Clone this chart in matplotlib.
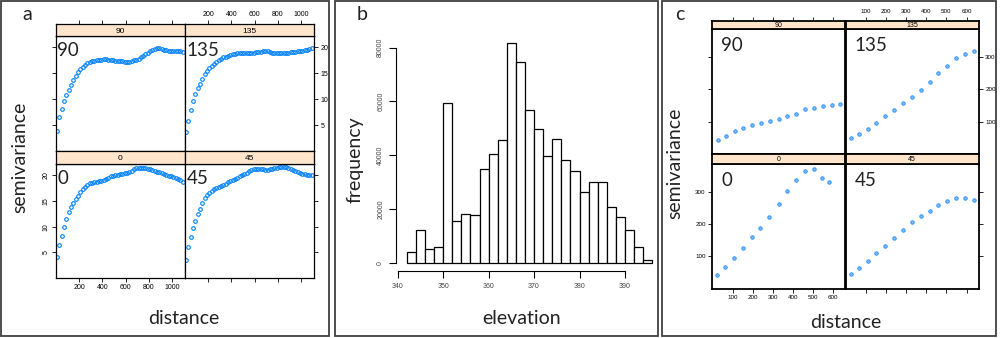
import matplotlib
matplotlib.use('Agg')
import matplotlib.pyplot as plt
from matplotlib.patches import Rectangle

# ---- panel a : directional semivariograms (dense lags) ----
dist_a = [10, 30, 50, 70, 90, 110, 130, 150, 170, 190, 210, 230, 250, 270, 290,
          310, 330, 350, 370, 390, 410, 430, 450, 470, 490, 510, 530, 550, 570, 590,
          610, 630, 650, 670, 690, 710, 730, 750, 770, 790, 810, 830, 850, 870, 890,
          910, 930, 950, 970, 990, 1010, 1030, 1050, 1070, 1090]
gamma_a_90 = [3.9, 6.5, 8.1, 9.6, 10.8, 11.8, 12.8, 13.7, 14.5, 15.2, 15.8, 16.2, 16.6, 16.95, 17.15,
              17.3, 17.45, 17.55, 17.6, 17.65, 17.7, 17.7, 17.65, 17.6, 17.55, 17.45, 17.4, 17.35, 17.3, 17.25,
              17.2, 17.25, 17.35, 17.5, 17.6, 17.8, 18.1, 18.4, 18.7, 19.0, 19.3, 19.5, 19.7, 19.85, 19.8,
              19.65, 19.5, 19.45, 19.4, 19.4, 19.35, 19.3, 19.3, 19.25, 19.2]
gamma_a_135 = [3.6, 5.8, 8.0, 9.7, 11.0, 12.1, 13.0, 13.9, 14.8, 15.4, 15.95, 16.45, 16.85, 17.2, 17.5,
               17.8, 18.05, 18.2, 18.35, 18.5, 18.65, 18.75, 18.85, 18.9, 18.9, 18.85, 18.9, 18.95, 19.0, 19.0,
               19.05, 19.15, 19.2, 19.3, 19.35, 19.25, 19.1, 19.0, 18.95, 18.9, 18.9, 18.95, 18.95, 19.0, 19.0,
               19.05, 19.1, 19.15, 19.25, 19.3, 19.35, 19.45, 19.55, 19.65, 19.8]
gamma_a_0 = [4.0, 6.5, 8.2, 10.0, 11.5, 12.9, 13.8, 14.6, 15.4, 16.0, 16.7, 17.3, 17.8, 18.2, 18.45,
             18.55, 18.65, 18.75, 18.8, 18.9, 19.0, 19.2, 19.5, 19.8, 19.9, 20.0, 20.1, 20.2, 20.25, 20.35,
             20.45, 20.6, 20.9, 21.2, 21.45, 21.5, 21.45, 21.4, 21.35, 21.3, 21.2, 21.0, 20.85, 20.7, 20.55,
             20.4, 20.25, 20.1, 19.95, 19.8, 19.65, 19.5, 19.35, 19.1, 18.6]
gamma_a_45 = [3.5, 6.1, 8.0, 9.7, 11.1, 12.4, 13.5, 14.6, 15.5, 16.2, 16.6, 17.0, 17.3, 17.55, 17.75,
              17.95, 18.15, 18.4, 18.65, 18.85, 19.05, 19.3, 19.55, 19.8, 20.0, 20.25, 20.5, 20.75, 21.0, 21.2,
              21.3, 21.25, 21.2, 21.15, 21.1, 21.1, 21.15, 21.25, 21.4, 21.5, 21.55, 21.6, 21.6, 21.55, 21.5,
              21.3, 21.0, 20.75, 20.55, 20.4, 20.3, 20.2, 20.1, 20.05, 20.0]

# ---- panel b : elevation histogram ----
bin_left = [342, 344, 346, 348, 350, 352, 354, 356, 358, 360, 362, 364, 366, 368,
            370, 372, 374, 376, 378, 380, 382, 384, 386, 388, 390, 392, 394]
counts = [4100, 12100, 5000, 5700, 59500, 15600, 18000, 17600, 35000, 40500, 45600, 81700, 74700, 56700,
          49600, 39700, 46100, 38400, 34100, 26200, 30100, 30100, 20700, 17100, 12000, 5700, 900]

# ---- panel c : directional semivariograms (coarse lags) ----
dist_c = [27, 66, 110, 152, 196, 240, 284, 329, 373, 417, 460, 505, 549, 593, 637]
dist_c0 = [25, 65, 105, 150, 195, 239, 282, 329, 373, 416, 459, 506, 545, 580]
gamma_c_90 = [43, 57, 70, 80, 89, 95, 103, 109, 118, 125, 138, 141, 147, 150, 155]
gamma_c_135 = [48, 62, 78, 96, 116, 137, 156, 176, 198, 223, 250, 272, 295, 308, 319]
gamma_c_0 = [43, 67, 95, 126, 159, 189, 222, 262, 301, 337, 363, 371, 343, 329]
gamma_c_45 = [46, 64, 86, 109, 132, 156, 181, 205, 225, 242, 260, 271, 280, 280, 275]

W, H = 1000, 338
fig = plt.figure(figsize=(W / 100, H / 100), dpi=100)

LABEL_FONT = ['Lato', 'DejaVu Sans']
TICK_FONT = ['Liberation Sans', 'DejaVu Sans']


def px_axes(x0, y0, x1, y1):
    # axes from pixel box (top-left origin)
    return fig.add_axes([x0 / W, 1 - y1 / H, (x1 - x0) / W, (y1 - y0) / H])


def style_ticks(ax, fs):
    ax.tick_params(direction='out', length=3, width=0.6, labelsize=fs, pad=1.5, colors='black')
    for lab in ax.get_xticklabels() + ax.get_yticklabels():
        lab.set_family(TICK_FONT)


def lattice(cols, rows, strips, xlim, ylim, xticks, yticks, panels, tick_fs, rot_left,
            frame_lw, marker, name_pos):
    # cols: (x0, xm, x1); rows: (ytop_strip, ytop, ymid_strip, ymid, ybot)
    x0, xm, x1 = cols
    ys, yt, ym1, ym2, yb = rows
    boxes = {
        (0, 0): (x0, yt, xm, ym1), (0, 1): (xm, yt, x1, ym1),
        (1, 0): (x0, ym2, xm, yb), (1, 1): (xm, ym2, x1, yb),
    }
    strip_boxes = {
        (0, 0): (x0, ys, xm, yt), (0, 1): (xm, ys, x1, yt),
        (1, 0): (x0, ym1, xm, ym2), (1, 1): (xm, ym1, x1, ym2),
    }
    for (r, c), (name, xs, ys_) in panels.items():
        ax = px_axes(*boxes[(r, c)])
        ax.plot(xs, ys_, linestyle='none', **marker)
        ax.set_xlim(xlim)
        ax.set_ylim(ylim)
        ax.set_xticks(xticks)
        ax.set_yticks(yticks)
        for sp in ax.spines.values():
            sp.set_linewidth(frame_lw)
        ax.tick_params(top=False, labeltop=False,
                       bottom=(r == 1), labelbottom=(r == 1 and c == 0),
                       left=(c == 0), labelleft=(c == 0 and r == 1),
                       right=(c == 1), labelright=(c == 1 and r == 0))
        style_ticks(ax, tick_fs)
        if rot_left and c == 0:
            for lab in ax.get_yticklabels():
                lab.set_rotation(90)
                lab.set_va('center')
        ax.text(name_pos[0], name_pos[1], name, transform=ax.transAxes, ha='left', va='top',
                fontsize=13.5, family=LABEL_FONT, color='#222222')

        # strip above each panel
        st = px_axes(*strip_boxes[(r, c)])
        st.set_facecolor('#ffe5cc')
        st.set_xlim(xlim)
        st.set_yticks([])
        st.set_xticks(xticks if r == 0 else [])
        for sp in st.spines.values():
            sp.set_linewidth(frame_lw)
        st.tick_params(bottom=False, labelbottom=False, top=(r == 0),
                       labeltop=(r == 0 and c == 1))
        style_ticks(st, tick_fs)
        st.text(0.5, 0.42, name, transform=st.transAxes, ha='center', va='center',
                fontsize=strips, family=TICK_FONT)


# ---- panel a ----
lattice(cols=(56, 185, 314), rows=(24.3, 36, 151, 164, 278), strips=6,
        xlim=(0, 1110), ylim=(0, 22.2), xticks=[200, 400, 600, 800, 1000], yticks=[5, 10, 15, 20],
        panels={(0, 0): ('90', dist_a, gamma_a_90), (0, 1): ('135', dist_a, gamma_a_135),
                (1, 0): ('0', dist_a, gamma_a_0), (1, 1): ('45', dist_a, gamma_a_45)},
        tick_fs=5, rot_left=True, frame_lw=0.9,
        marker=dict(marker='o', ms=2.6, mfc='none', mec='#0080ff', mew=0.8),
        name_pos=(0.01, 0.95))

# ---- panel c ----
lattice(cols=(712, 845.5, 979), rows=(20.7, 29.3, 154, 164.3, 288.7), strips=5,
        xlim=(-2, 662), ylim=(0, 385), xticks=[100, 200, 300, 400, 500, 600], yticks=[100, 200, 300],
        panels={(0, 0): ('90', dist_c, gamma_c_90), (0, 1): ('135', dist_c, gamma_c_135),
                (1, 0): ('0', dist_c0, gamma_c_0), (1, 1): ('45', dist_c, gamma_c_45)},
        tick_fs=4.5, rot_left=False, frame_lw=1.3,
        marker=dict(marker='o', ms=2.5, mfc='#7fbfff', mec='#1e88ff', mew=0.6),
        name_pos=(0.07, 0.94))

# ---- panel b ----
axb = px_axes(388, 40, 658, 275)
axb.bar(bin_left, counts, width=2, align='edge', facecolor='white', edgecolor='black', linewidth=0.9)
axb.set_xlim(337.87, 397.27)
axb.set_ylim(-4577, 82866)
axb.spines['top'].set_visible(False)
axb.spines['right'].set_visible(False)
axb.spines['left'].set_position(('data', 339.63))
axb.spines['left'].set_bounds(0, 80000)
axb.spines['bottom'].set_position(('data', -2977))
axb.spines['bottom'].set_bounds(340, 390)
axb.set_xticks([340, 350, 360, 370, 380, 390])
axb.set_yticks([0, 20000, 40000, 60000, 80000])
axb.patch.set_visible(False)
axb.tick_params(direction='out', length=5, width=0.8, labelsize=5, colors='black', labelcolor='#444444')
for lab in axb.get_xticklabels() + axb.get_yticklabels():
    lab.set_family(TICK_FONT)
for lab in axb.get_yticklabels():
    lab.set_rotation(90)
    lab.set_va('center')


# ---- axis titles and panel letters ----
def ftext(x, y, s, **kw):
    fig.text(x / W, 1 - y / H, s, family=LABEL_FONT, color='#222222', **kw)


ftext(20, 157, 'semivariance', fontsize=14, rotation=90, ha='center', va='center')
ftext(184, 318, 'distance', fontsize=14, ha='center', va='center')
ftext(355, 160, 'frequency', fontsize=14, rotation=90, ha='center', va='center')
ftext(522, 318, 'elevation', fontsize=14, ha='center', va='center')
ftext(675, 163, 'semivariance', fontsize=14, rotation=90, ha='center', va='center')
ftext(846, 323, 'distance', fontsize=14, ha='center', va='center')
ftext(27, 15, 'a', fontsize=14, ha='center', va='center')
ftext(362, 15, 'b', fontsize=14, ha='center', va='center')
ftext(680, 15, 'c', fontsize=14, ha='center', va='center')

# panel frames
for x0, x1 in [(1, 329), (335, 658), (662, 996)]:
    fig.add_artist(Rectangle((x0 / W, 1 - 336 / H), (x1 - x0) / W, 335 / H,
                             transform=fig.transFigure, fill=False, ec='#404040', lw=1.3))

fig.savefig('out.png', dpi=100)
